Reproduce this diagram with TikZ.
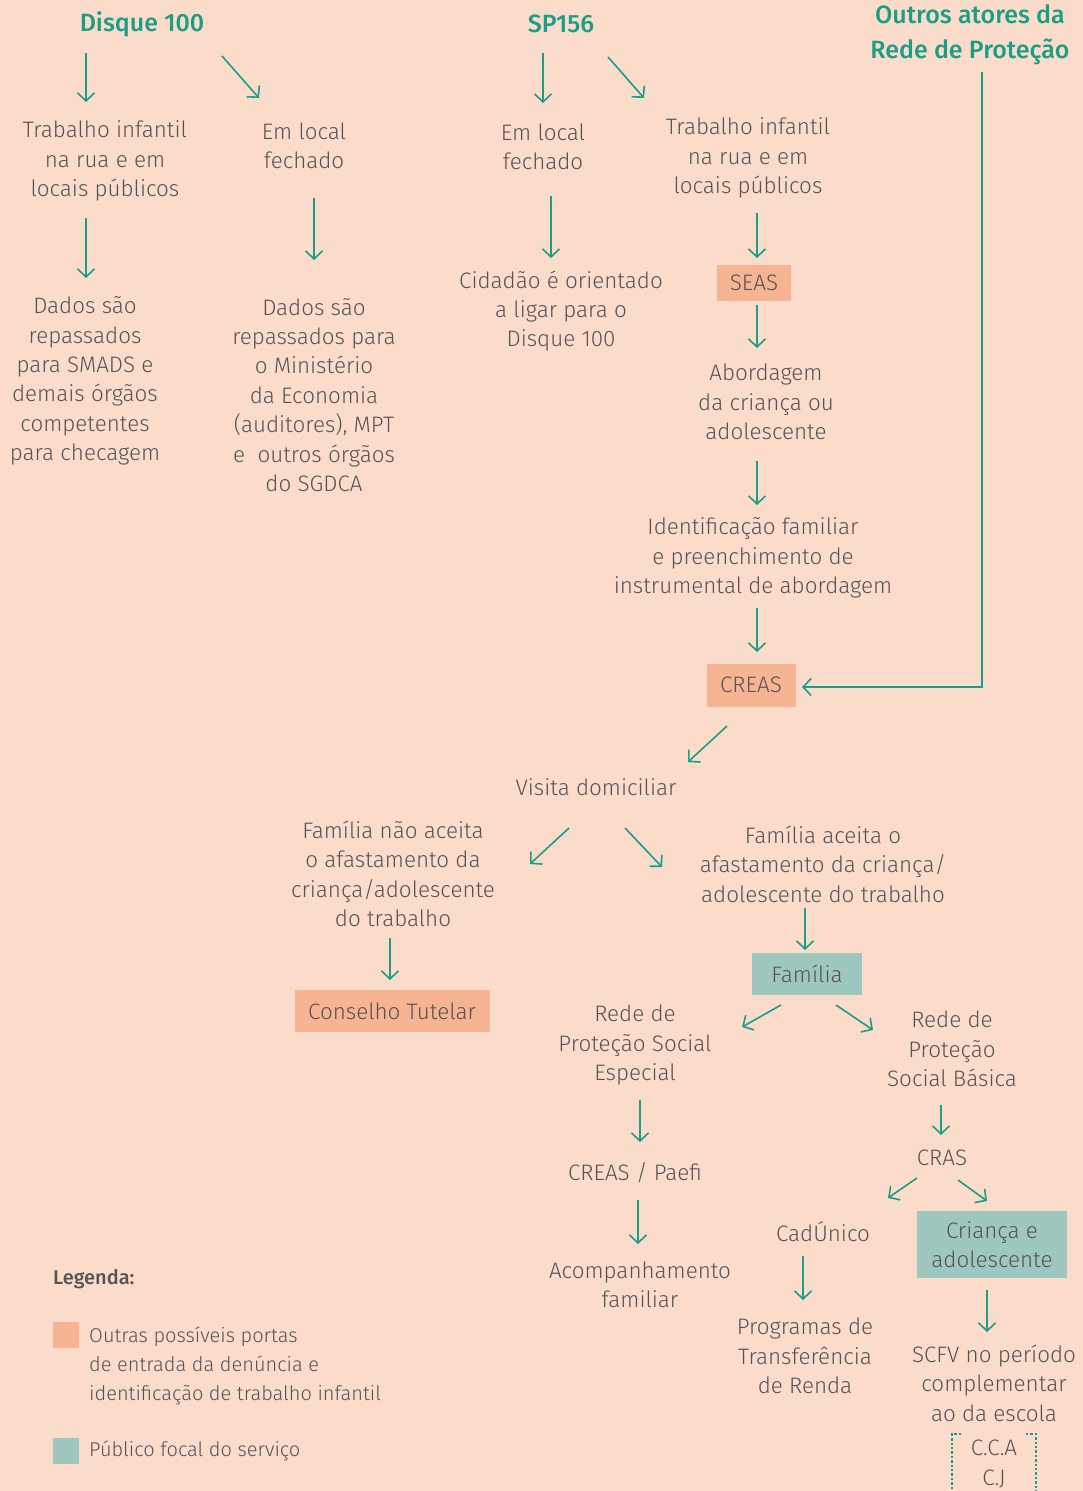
\documentclass[tikz,border=0pt]{standalone}
\usepackage{fontspec}
\setmainfont{Fira Sans}[UprightFont={* Light}, BoldFont={* Medium}]
\usetikzlibrary{arrows.meta}
\definecolor{bg}{HTML}{FBDCCB}
\definecolor{tealc}{HTML}{1A9E86}
\definecolor{txt}{HTML}{545454}
\definecolor{orbox}{HTML}{F6B493}
\definecolor{tlbox}{HTML}{9EC8BF}
\tikzset{
  lbl/.style={inner sep=0pt, align=center, text=txt, font=\fontsize{22.4}{29.4}\selectfont},
  ttl/.style={inner sep=0pt, align=center, text=tealc, font=\fontsize{25}{35}\selectfont\bfseries},
  obox/.style={lbl, fill=orbox},
  tbox/.style={lbl, fill=tlbox},
  arr/.style={draw=tealc, line width=1.6pt, -{Straight Barb[length=8pt,width=17pt,line width=1.6pt]}},
  legtxt/.style={inner sep=0pt, align=left, anchor=west, text=txt, font=\fontsize{20}{29}\selectfont},
}
\begin{document}
\begin{tikzpicture}[x=1pt,y=-1pt]
\fill[bg] (0,0) rectangle (1083,1491);
\useasboundingbox (0,0) rectangle (1083,1491);

% titles
\node[ttl] (d100) at (142,24) {Disque 100};
\node[ttl] (sp) at (561,24) {SP156};
\node[ttl] (outros) at (970,35) {Outros atores da\\Rede de Proteção};

% left branch
\node[lbl] (ti1) at (105,161) {Trabalho infantil\\na rua e em\\locais públicos};
\node[lbl] (el1) at (304,146) {Em local\\fechado};
\node[lbl] (dd1) at (85,381) {Dados são\\repassados\\para SMADS e\\demais órgãos\\competentes\\para checagem};
\node[lbl] (dd2) at (314,395) {Dados são\\repassados para\\o Ministério\\da Economia\\(auditores), MPT\\e \ outros órgãos\\do SGDCA};

% SP156 branch
\node[lbl] (el2) at (543,147) {Em local\\fechado};
\node[lbl] (ti2) at (748,158) {Trabalho infantil\\na rua e em\\locais públicos};
\node[lbl] (cid) at (561,311) {Cidadão é orientado\\a ligar para o\\Disque 100};
\node[obox, minimum width=74pt, minimum height=36pt] (seas) at (754,283) {SEAS};
\node[lbl] (abord) at (766,402) {Abordagem\\da criança ou\\adolescente};
\node[lbl] (ident) at (753,558) {Identificação familiar\\e preenchimento de\\instrumental de abordagem};
\node[obox, minimum width=89pt, minimum height=43pt] (creas) at (751,685) {CREAS};

\node[lbl] (visita) at (596,787) {Visita domiciliar};
\node[lbl] (fna) at (393,874) {Família não aceita\\o afastamento da\\criança/adolescente\\do trabalho};
\node[lbl] (fa) at (823,864) {Família aceita o\\afastamento da criança/\\adolescente do trabalho};
\node[obox, minimum width=195pt, minimum height=42pt] (ct) at (392,1011) {Conselho Tutelar};
\node[tbox, minimum width=110pt, minimum height=42pt] (fam) at (807,974) {Família};

\node[lbl] (rpe) at (635,1045) {Rede de\\Proteção Social\\Especial};
\node[lbl] (rpb) at (952,1049) {Rede de\\Proteção\\Social Básica};
\node[lbl] (cp) at (635,1173) {CREAS / Paefi};
\node[lbl] (acomp) at (640,1285) {Acompanhamento\\familiar};
\node[lbl] (cras) at (942,1158) {CRAS};
\node[lbl] (cad) at (823,1232) {CadÚnico};
\node[tbox, minimum width=150pt, minimum height=67pt] (crianca) at (992,1244.5) {Criança e\\adolescente};
\node[lbl] (prog) at (805,1356) {Programas de\\Transferência\\de Renda};
\node[lbl] (scfv) at (994,1383) {SCFV no período\\complementar\\ao da escola};
\node[lbl] (cca) at (994,1464) {C.C.A\\C.J};
\draw[tealc, line width=2.4pt, dotted] ([shift={(-33,-30)}]cca.center) -- ([shift={(-42,-30)}]cca.center) -- ([shift={(-42,30)}]cca.center);
\draw[tealc, line width=2.4pt, dotted] ([shift={(32,-30)}]cca.center) -- ([shift={(42,-30)}]cca.center) -- ([shift={(42,30)}]cca.center);

% legend
\node[inner sep=0pt, anchor=west, text=txt, font=\fontsize{20}{22}\selectfont\bfseries] (leg) at (53,1279) {Legenda:};
\node[fill=orbox, minimum size=26pt, inner sep=0pt] (sq1) at (66,1335) {};
\node[legtxt] (leg1) at (89,1366) {Outras possíveis portas\\de entrada da denúncia e\\identificação de trabalho infantil};
\node[fill=tlbox, minimum size=26pt, inner sep=0pt] (sq2) at (66,1451) {};
\node[legtxt] (leg2) at (89,1451) {Público focal do serviço};

% arrows
\draw[arr] ([shift={(-56,29)}]d100.center) -- ([shift={(-19,-59)}]ti1.center);
\draw[arr] ([shift={(80,32)}]d100.center) -- ([shift={(-45,-48)}]el1.center);
\draw[arr] ([shift={(-19,57)}]ti1.center) -- ([shift={(1,-103)}]dd1.center);
\draw[arr] ([shift={(10,52)}]el1.center) -- ([shift={(0,-135)}]dd2.center);
\draw[arr] ([shift={(-18,29)}]sp.center) -- ([shift={(0,-44)}]el2.center);
\draw[arr] ([shift={(47,33)}]sp.center) -- ([shift={(-104,-60)}]ti2.center);
\draw[arr] ([shift={(8,49)}]el2.center) -- ([shift={(-10,-53)}]cid.center);
\draw[arr] ([shift={(9,55)}]ti2.center) -- ([shift={(3,-25)}]seas.center);
\draw[arr] ([shift={(3,22)}]seas.center) -- ([shift={(-9,-54)}]abord.center);
\draw[arr] ([shift={(-9,59)}]abord.center) -- ([shift={(4,-53)}]ident.center);
\draw[arr] ([shift={(4,50)}]ident.center) -- ([shift={(6,-33)}]creas.center);
\draw[arr] ([shift={(12,37)}]outros.center) |- ([shift={(51,2)}]creas.center);
\draw[arr] ([shift={(-24,41)}]creas.center) -- ([shift={(92,-25)}]visita.center);
\draw[arr] ([shift={(-27,41)}]visita.center) -- ([shift={(137,-10)}]fna.center);
\draw[arr] ([shift={(29,41)}]visita.center) -- ([shift={(-161,3)}]fa.center);
\draw[arr] ([shift={(-3,64)}]fna.center) -- ([shift={(-2,-31)}]ct.center);
\draw[arr] ([shift={(-18,44)}]fa.center) -- ([shift={(-2,-24)}]fam.center);
\draw[arr] ([shift={(-26,31)}]fam.center) -- ([shift={(107,-18)}]rpe.center);
\draw[arr] ([shift={(29,31)}]fam.center) -- ([shift={(-79,-19)}]rpb.center);
\draw[arr] ([shift={(5,55)}]rpe.center) -- ([shift={(5,-31)}]cp.center);
\draw[arr] ([shift={(3,27)}]cp.center) -- ([shift={(-2,-41)}]acomp.center);
\draw[arr] ([shift={(-11,56)}]rpb.center) -- ([shift={(-1,-23)}]cras.center);
\draw[arr] ([shift={(-25,20)}]cras.center) -- ([shift={(65,-34)}]cad.center);
\draw[arr] ([shift={(16,22)}]cras.center) -- ([shift={(-5,-43.5)}]crianca.center);
\draw[arr] ([shift={(-20,24)}]cad.center) -- ([shift={(-2,-56)}]prog.center);
\draw[arr] ([shift={(-5,45.5)}]crianca.center) -- ([shift={(-7,-51)}]scfv.center);
\end{tikzpicture}
\end{document}
